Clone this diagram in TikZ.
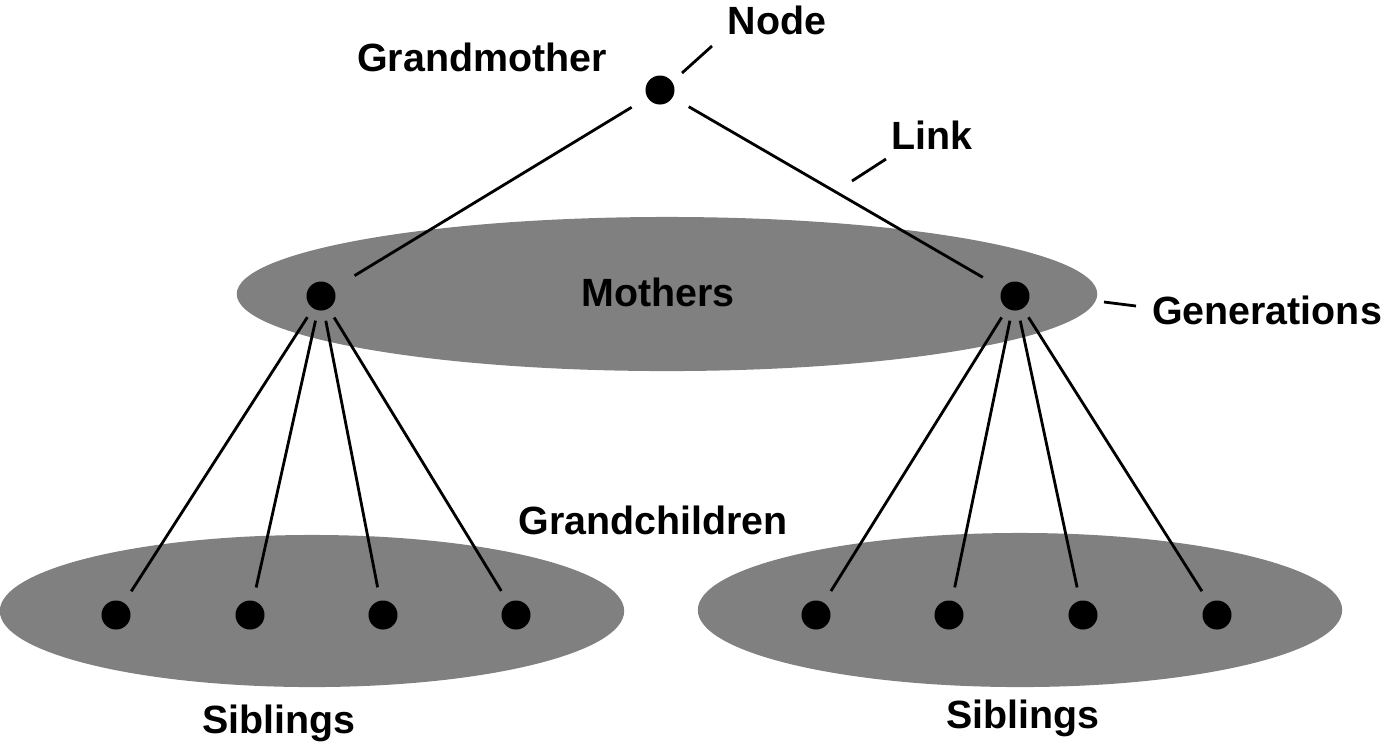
\documentclass[tikz,border=0pt]{standalone}
\usepackage{fontspec}
\setmainfont{Liberation Sans}
\begin{document}
\begin{tikzpicture}[x=0.01cm,y=-0.01cm,
  lbl/.style={font=\fontsize{11.2pt}{13pt}\selectfont\bfseries, anchor=base, inner sep=0pt},
  dot/.style={circle, fill=black, inner sep=0pt, minimum size=0.29cm},
  link/.style={line width=0.8pt},
  gen/.style={fill=gray}]
\useasboundingbox (0,0) rectangle (1384,747);

% generation bands
\fill[gen] (667,294) ellipse [x radius=4.30cm, y radius=0.77cm];
\fill[gen] (312,611) ellipse [x radius=3.12cm, y radius=0.76cm];
\fill[gen] (1020,610) ellipse [x radius=3.22cm, y radius=0.77cm];

% people
\node[dot] (gm) at (660,90) {};
\node[dot] (m1) at (321,296) {};
\node[dot] (m2) at (1015,296) {};
\node[dot] (c1) at (116,615) {};
\node[dot] (c2) at (250,615) {};
\node[dot] (c3) at (383,615) {};
\node[dot] (c4) at (516,615) {};
\node[dot] (c5) at (816,615) {};
\node[dot] (c6) at (949,615) {};
\node[dot] (c7) at (1083,615) {};
\node[dot] (c8) at (1217,615) {};

% links
\draw[link, shorten <=0.18cm, shorten >=0.24cm] (gm) -- (m1);
\draw[link, shorten <=0.18cm, shorten >=0.22cm] (gm) -- (m2);
\foreach \m/\c in {m1/c1, m1/c2, m1/c3, m1/c4, m2/c5, m2/c6, m2/c7, m2/c8}
  \draw[link, shorten <=0.10cm, shorten >=0.13cm] (\m) -- (\c);

% labels
\node[lbl] (tnode) at (777,34) {Node};
\node[lbl] (tgm) at (482,71) {Grandmother};
\node[lbl] (tlink) at (932,149) {Link};
\node[lbl] (tmoth) at (658,306) {Mothers};
\node[lbl] (tgen) at (1267,324) {Generations};
\node[lbl] (tgch) at (653,534) {Grandchildren};
\node[lbl] (tsib1) at (279,733) {Siblings};
\node[lbl] (tsib2) at (1023,728) {Siblings};

% leader lines
\coordinate (nodeA) at (682,73);
\coordinate (nodeB) at (712,46);
\coordinate (linkA) at (852,181);
\coordinate (linkB) at (886,159);
\coordinate (genA) at (1104,302);
\coordinate (genB) at (1136,306);
\draw[link] (nodeA) -- (nodeB);
\draw[link] (linkA) -- (linkB);
\draw[link] (genA) -- (genB);
\end{tikzpicture}
\end{document}
